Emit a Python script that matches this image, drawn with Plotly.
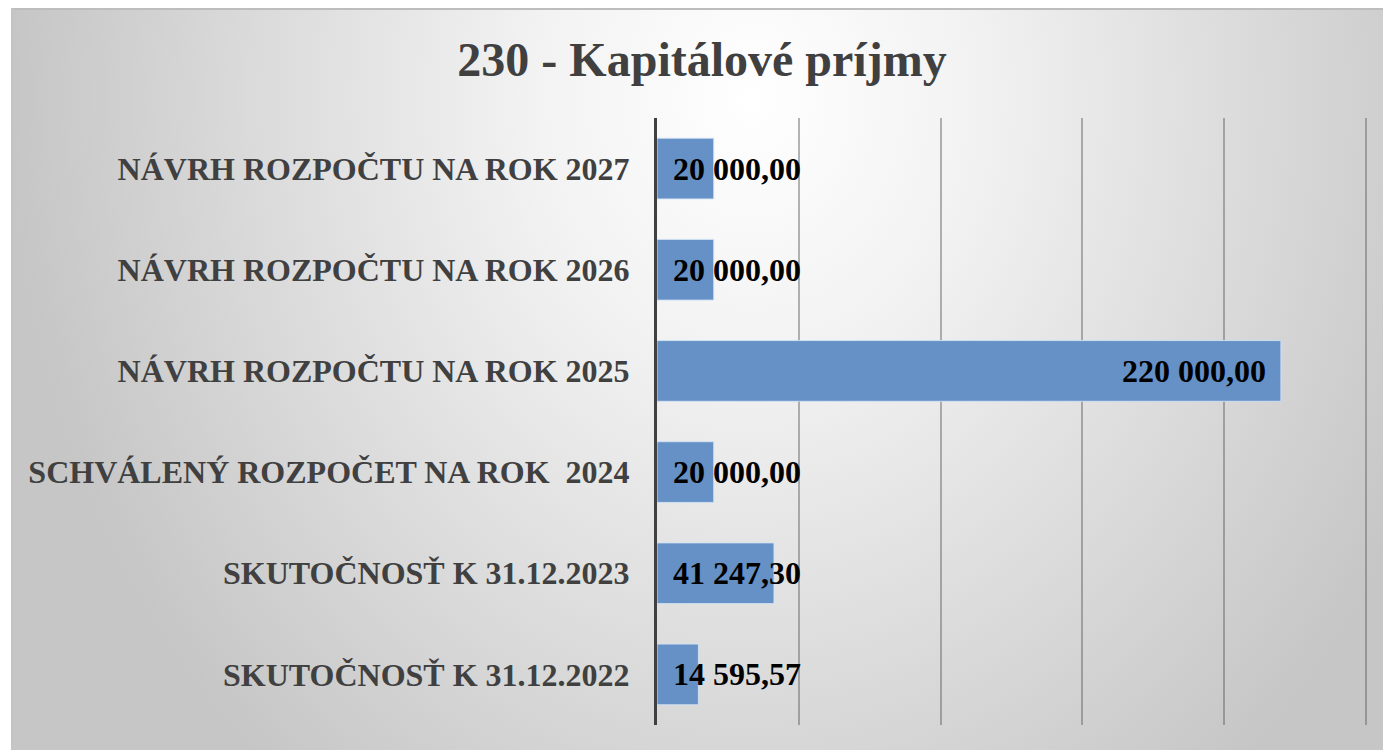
import base64
import plotly.graph_objects as go

categories = [
    "SKUTOČNOSŤ K 31.12.2022",
    "SKUTOČNOSŤ K 31.12.2023",
    "SCHVÁLENÝ ROZPOČET NA ROK \u00a02024",
    "NÁVRH ROZPOČTU NA ROK 2025",
    "NÁVRH ROZPOČTU NA ROK 2026",
    "NÁVRH ROZPOČTU NA ROK 2027",
]
values = [14595.57, 41247.30, 20000.00, 220000.00, 20000.00, 20000.00]
x_ticks = [0, 50000, 100000, 150000, 200000, 250000]
title_text = "230 - Kapitálové príjmy"


def sk_format(v):
    s = f"{v:,.2f}"
    return s.replace(",", " ").replace(".", ",")


W, H = 1383, 750
L, R, T, B = 657, 14, 118, 25
pw, ph = W - L - R, H - T - B
x_max = x_ticks[-1] * pw / (1366 - L)

# Background gradient frame (SVG image)
fx0, fy0 = 11, 8
fw, fh = W - fx0, H - fy0
svg = f'''<svg xmlns="http://www.w3.org/2000/svg" width="{fw}" height="{fh}" viewBox="0 0 {fw} {fh}">
<defs><radialGradient id="g" gradientUnits="userSpaceOnUse" cx="0" cy="0" r="1" gradientTransform="translate(740,90) scale(740,880)">
<stop offset="0" stop-color="#ffffff"/><stop offset="0.3" stop-color="#f2f2f2"/><stop offset="1" stop-color="#c6c6c6"/></radialGradient></defs>
<rect x="0" y="0" width="{fw}" height="{fh}" fill="url(#g)"/>
<line x1="0" y1="1" x2="{fw}" y2="1" stroke="#bdbdbd" stroke-width="2"/>
<line x1="1" y1="0" x2="1" y2="{fh}" stroke="#c4c4c4" stroke-width="2"/>
</svg>'''
src = "data:image/svg+xml;base64," + base64.b64encode(svg.encode()).decode()

fig = go.Figure()
fig.add_trace(go.Bar(
    y=categories, x=values, orientation="h",
    marker=dict(color="#6691C6", line=dict(color="rgba(210,226,244,0.9)", width=1)),
    hoverinfo="skip",
))

label_font = dict(family="Liberation Serif", size=32, color="#000000", weight="bold")
annotations = []
for c, v in zip(categories, values):
    if v > 100000:
        annotations.append(dict(x=v, y=c, xref="x", yref="y", text=sk_format(v),
                                xanchor="right", xshift=-13, showarrow=False, font=label_font))
    else:
        annotations.append(dict(x=0, y=c, xref="x", yref="y", text=sk_format(v),
                                xanchor="left", xshift=14, showarrow=False, font=label_font))

fig.update_layout(
    width=W, height=H,
    margin=dict(l=L, r=R, t=T, b=B, pad=0),
    paper_bgcolor="#ffffff",
    plot_bgcolor="rgba(0,0,0,0)",
    showlegend=False,
    bargap=0.40,
    title=dict(text=title_text, x=702 / W, xanchor="center", y=1 - 59 / H, yanchor="middle",
               yref="container", xref="container",
               font=dict(family="Liberation Serif", size=48, color="#404040", weight="bold")),
    xaxis=dict(range=[0, x_max], tickvals=x_ticks, showticklabels=False, showgrid=True,
               gridcolor="rgba(90,90,90,0.45)", gridwidth=1.5, zeroline=False, showline=False),
    yaxis=dict(type="category", showline=True, linecolor="#404040", linewidth=3,
               ticks="", ticklabelstandoff=18, showgrid=False,
               tickfont=dict(family="Liberation Serif", size=32, color="#404040", weight="bold")),
    annotations=annotations,
    images=[dict(source=src, xref="paper", yref="paper",
                 x=(fx0 - L) / pw, y=(H - B - fy0) / ph, sizex=fw / pw, sizey=fh / ph,
                 xanchor="left", yanchor="top", sizing="stretch", layer="below")],
)

fig.write_html("out.html", config={"displayModeBar": False},
               post_script="document.body.style.margin='0';document.body.style.overflow='hidden';")
